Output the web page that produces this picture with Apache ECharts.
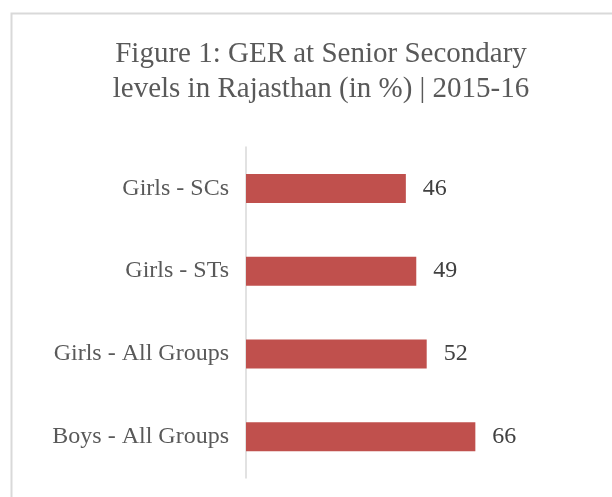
<!DOCTYPE html>
<html>
<head>
<meta charset="utf-8">
<script src="https://cdn.jsdelivr.net/npm/echarts@6/dist/echarts.min.js"></script>
<style>
    html, body { margin: 0; padding: 0; background: #fff; }
    #chart { width: 612px; height: 497px; }
</style>
</head>
<body>
<div id="chart"></div>
<script>
const categories = ["Girls - SCs", "Girls - STs", "Girls - All Groups", "Boys - All Groups"]
const gerValues = [46, 49, 52, 66]
const titleLines = ["Figure 1: GER at Senior Secondary", "levels in Rajasthan (in %) | 2015-16"]

const chart = echarts.init(document.getElementById("chart"))
const serif = "'Liberation Serif', 'Times New Roman', serif"

const option = {
    animation: false,
    title: {
        text: titleLines.join("\n"),
        left: 316,
        top: 32,
        textAlign: "center",
        textStyle: {
            fontFamily: serif,
            fontWeight: "normal",
            fontSize: 29,
            lineHeight: 35,
            color: "#595959",
        },
    },
    graphic: [
        {
            type: "rect",
            shape: { x: 11.5, y: 13.5, width: 700, height: 600 },
            style: { fill: "none", stroke: "#d9d9d9", lineWidth: 2 },
            silent: true,
        },
    ],
    grid: {
        left: 246,
        right: 88,
        top: 147,
        bottom: 19,
        containLabel: false,
    },
    xAxis: {
        type: "value",
        min: 0,
        max: 80,
        show: false,
    },
    yAxis: {
        type: "category",
        data: categories,
        inverse: true,
        axisTick: { show: false },
        axisLine: {
            lineStyle: { color: "#d9d9d9", width: 1.5 },
        },
        axisLabel: {
            margin: 17,
            fontFamily: serif,
            fontSize: 24,
            color: "#595959",
        },
    },
    series: [
        {
            type: "bar",
            data: gerValues,
            barWidth: 29,
            itemStyle: { color: "#c0504d" },
            label: {
                show: true,
                position: "right",
                distance: 17,
                fontFamily: serif,
                fontSize: 24,
                color: "#404040",
            },
        },
    ],
}

chart.setOption(option)
</script>
</body>
</html>
